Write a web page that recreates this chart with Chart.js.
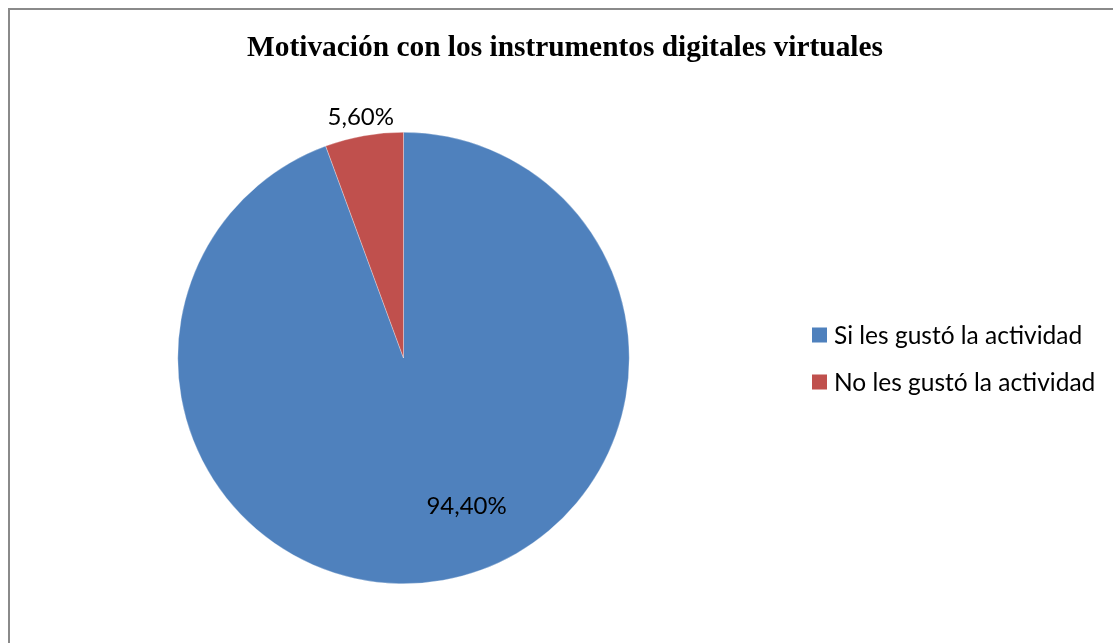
<!DOCTYPE html>
<html>
<head>
<meta charset="utf-8">
<script src="https://cdn.jsdelivr.net/npm/chart.js@4.4.1/dist/chart.umd.min.js"></script>
<style>
  html, body { margin: 0; padding: 0; background: #fff; }
  #wrap { width: 1113px; height: 643px; position: relative; }
</style>
</head>
<body>
<div id="wrap"><canvas id="c" width="1113" height="643"></canvas></div>
<script>
const title = "Motivación con los instrumentos digitales virtuales";
const categories = ["Si les gustó la actividad", "No les gustó la actividad"];
const values = [94.4, 5.6];
const valueLabels = ["94,40%", "5,60%"];
const colors = ["#4F81BD", "#C0504D"];

// label placement style: radius fraction and angle shift (degrees)
const labelStyle = [
  { rFrac: 0.713, shift: -13 },
  { rFrac: 1.082, shift: 0 }
];

const deco = {
  id: 'deco',
  beforeDraw(chart) {
    const ctx = chart.ctx;
    ctx.save();
    ctx.fillStyle = '#fff';
    ctx.fillRect(0, 0, chart.width, chart.height);
    ctx.strokeStyle = '#8a8a8a';
    ctx.lineWidth = 2;
    ctx.beginPath();
    ctx.moveTo(9, chart.height);
    ctx.lineTo(9, 9);
    ctx.lineTo(chart.width, 9);
    ctx.stroke();
    ctx.restore();
  },
  afterDraw(chart) {
    const ctx = chart.ctx;
    ctx.save();
    // title
    ctx.fillStyle = '#000';
    ctx.font = 'bold 29.4px "Liberation Serif", "Times New Roman", serif';
    ctx.textAlign = 'center';
    ctx.textBaseline = 'alphabetic';
    ctx.fillText(title, 565, 56);

    // data labels
    const meta = chart.getDatasetMeta(0);
    ctx.font = '24px Lato, "Open Sans", sans-serif';
    ctx.textBaseline = 'middle';
    meta.data.forEach((arc, i) => {
      const p = arc.getProps(['x', 'y', 'startAngle', 'endAngle', 'outerRadius'], true);
      const mid = (p.startAngle + p.endAngle) / 2 + labelStyle[i].shift * Math.PI / 180;
      const r = p.outerRadius * labelStyle[i].rFrac;
      ctx.fillText(valueLabels[i], p.x + Math.cos(mid) * r, p.y + Math.sin(mid) * r);
    });

    // legend
    ctx.textAlign = 'left';
    ctx.font = '24.5px Lato, "Open Sans", sans-serif';
    categories.forEach((cat, i) => {
      const y = 335 + i * 47;
      ctx.fillStyle = colors[i];
      ctx.fillRect(812, y - 7.5, 15, 15);
      ctx.fillStyle = '#000';
      ctx.fillText(cat, 834, y + 1);
    });
    ctx.restore();
  }
};

new Chart(document.getElementById('c'), {
  type: 'pie',
  data: {
    labels: categories,
    datasets: [{
      data: values,
      backgroundColor: colors,
      borderColor: 'rgba(255,255,255,0.6)',
      borderWidth: 0.5
    }]
  },
  options: {
    responsive: false,
    animation: false,
    layout: { padding: { top: 132, bottom: 59, left: 177, right: 483 } },
    plugins: {
      legend: { display: false },
      title: { display: false },
      tooltip: { enabled: false }
    }
  },
  plugins: [deco]
});
</script>
</body>
</html>
